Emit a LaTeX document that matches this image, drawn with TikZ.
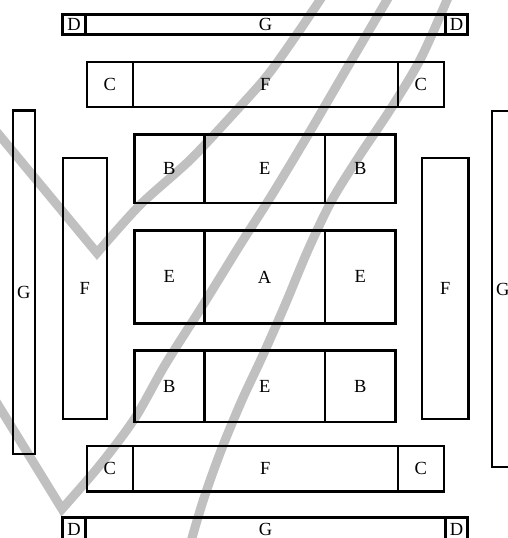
\documentclass[tikz,border=0pt]{standalone}
\usepackage{fontspec}
\setmainfont{Liberation Serif}
\usetikzlibrary{positioning}
\definecolor{penGray}{RGB}{192, 192, 192}

\begin{document}
\begin{tikzpicture}[
    x=1pt, y=-1pt,
    cell/.style={rectangle, draw=black, line width=2.4pt, inner sep=0pt, outer sep=0pt, font=\fontsize{18.5}{20}\selectfont},
    gbar/.style={cell, minimum height=20pt},
    fbar/.style={cell, minimum height=45.5pt},
    penstroke/.style={draw=penGray, line width=9pt}
]
    \clip (0,0) rectangle (508,538);
    \fill[white] (0,0) rectangle (508,538);

    % Strokes
    \draw[penstroke] (-12,121.5) -- plot[smooth] coordinates {(97,253) (140,205) (190,160) (235,112) (267,76) (295,37) (320,0) (333,-20)};
    \draw[penstroke] (-12,388.5) -- plot[smooth] coordinates {(62,509) (100,465) (135,418) (165,365) (203,305) (240,245) (270,198) (305,140) (340,80) (387,0) (399,-20)};
    \draw[penstroke] plot[smooth] coordinates {(455,-20) (447,0) (420,60) (390,110) (360,155) (332,200) (308,250) (285,305) (263,355) (242,400) (222,448) (205,495) (192,538) (188,558)};

    % Top bars
    \node[gbar, minimum width=23pt] (dTL) at (74,24.5) {D};
    \node[gbar, minimum width=360pt, right=0pt of dTL] (gT) {G};
    \node[gbar, minimum width=22pt, right=0pt of gT] (dTR) {D};

    \node[fbar, minimum width=46pt] (cTL) at (109.7,84.5) {C};
    \node[fbar, minimum width=265pt, right=0pt of cTL] (fT) {F};
    \node[fbar, minimum width=46pt, right=0pt of fT] (cTR) {C};

    % Inner rows
    \node[cell, minimum width=70pt, minimum height=68.7pt] (bNW) at (169.3,168.85) {B};
    \node[cell, minimum width=120.7pt, minimum height=68.7pt, right=0pt of bNW] (eN) {E};
    \node[cell, minimum width=70.5pt, minimum height=68.7pt, right=0pt of eN] (bNE) {B};

    \node[cell, minimum width=70pt, minimum height=92.8pt] (eW) at (169.3,276.9) {E};
    \node[cell, minimum width=120.7pt, minimum height=92.8pt, right=0pt of eW] (aC) {A};
    \node[cell, minimum width=70.5pt, minimum height=92.8pt, right=0pt of aC] (eE) {E};

    \node[cell, minimum width=70pt, minimum height=71.5pt] (bSW) at (169.3,386.25) {B};
    \node[cell, minimum width=120.7pt, minimum height=71.5pt, right=0pt of bSW] (eS) {E};
    \node[cell, minimum width=70.5pt, minimum height=71.5pt, right=0pt of eS] (bSE) {B};

    % Side columns
    \node[cell, minimum width=22pt, minimum height=343.5pt, text height=32pt] (gL) at (23.7,282.25) {G};
    \node[cell, minimum width=44.3pt, minimum height=261pt] (fL) at (84.85,288.5) {F};
    \node[cell, minimum width=46.5pt, minimum height=261pt] (fR) at (445.25,288.5) {F};
    \node[cell, minimum width=22pt, minimum height=356pt] (gR) at (502.8,289) {G};

    % Bottom bars
    \node[fbar, minimum width=46pt] (cBL) at (109.7,468.85) {C};
    \node[fbar, minimum width=265pt, right=0pt of cBL] (fB) {F};
    \node[fbar, minimum width=46pt, right=0pt of fB] (cBR) {C};

    \node[gbar, minimum width=23pt, minimum height=23pt] (dBL) at (74,529) {D};
    \node[gbar, minimum width=360pt, minimum height=23pt, right=0pt of dBL] (gB) {G};
    \node[gbar, minimum width=22pt, minimum height=23pt, right=0pt of gB] (dBR) {D};
\end{tikzpicture}
\end{document}
